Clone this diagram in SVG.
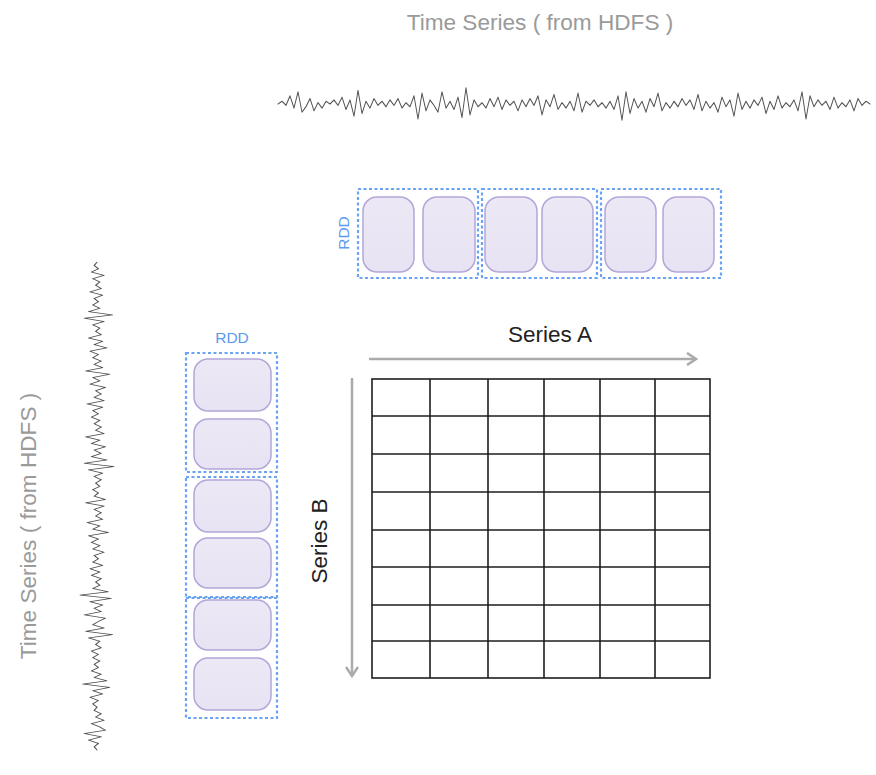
<svg xmlns="http://www.w3.org/2000/svg" width="876" height="775" viewBox="0 0 876 775">
  <style>
    .title { font-family: "Liberation Sans", Arial, sans-serif; font-size: 22.6px; fill: #9a9a9a; }
    .axis { font-family: "Liberation Sans", Arial, sans-serif; font-size: 22.5px; fill: #222; }
    .rddlabel { font-family: "Liberation Sans", Arial, sans-serif; font-size: 15.5px; fill: #5a9af0; }
    .wave { fill: none; stroke: #505050; stroke-width: 0.95; stroke-linejoin: round; stroke-linecap: round; }
    .rdd { fill: none; stroke: #6aa3f2; stroke-width: 2.2; stroke-dasharray: 3 2.5; }
    .part { fill: url(#partFill); stroke: #b3a6d9; stroke-width: 1.5; }
    .grid { fill: none; stroke: #1e1e1e; stroke-width: 1.6; }
    .arrow { fill: none; stroke: #ababab; stroke-width: 2.5; }
  </style>
  <defs>
    <linearGradient id="partFill" x1="0" y1="0" x2="0" y2="1">
      <stop offset="0" stop-color="#ece8f5"/>
      <stop offset="1" stop-color="#e8e3f3"/>
    </linearGradient>
    <filter id="soft" x="-5%" y="-50%" width="110%" height="200%">
      <feGaussianBlur stdDeviation="0.5"/>
    </filter>
    <path id="signal" d="M0,0 L4,-2 L8,1 L12,-6 L16,3 L20,-9 L24,6 L28,2 L32,-4 L36,5 L40,-1 L44,3 L48,-2 L52,0 L56,-3 L60,1 L64,-5 L68,4 L72,-3 L76,9 L80,-10 L84,7 L88,-2 L92,3 L96,-4 L100,1 L104,-2 L108,2 L112,-3 L116,1 L120,-4 L124,3 L128,-1 L132,2 L136,-6 L140,11 L144,-8 L148,5 L152,-3 L156,1 L160,6 L164,-9 L168,3 L172,-2 L176,4 L180,-5 L184,10 L188,-12 L192,8 L196,-3 L200,2 L204,-1 L208,3 L212,-4 L216,2 L220,-5 L224,4 L228,-3 L232,1 L236,-2 L240,5 L244,-3 L248,2 L252,-4 L256,1 L260,-6 L264,8 L268,-3 L272,2 L276,-7 L280,4 L284,-1 L288,3 L292,-2 L296,5 L300,-8 L304,6 L308,-2 L312,1 L316,-3 L320,2 L324,-1 L328,3 L332,-2 L336,4 L340,-6 L344,12 L348,-9 L352,7 L356,-4 L360,3 L364,-2 L368,6 L372,-4 L376,2 L380,-8 L384,5 L388,-1 L392,3 L396,-2 L400,2 L404,-4 L408,1 L412,-3 L416,4 L420,-7 L424,5 L428,-2 L432,3 L436,-1 L440,6 L444,-5 L448,2 L452,-3 L456,9 L460,-8 L464,4 L468,-2 L472,3 L476,-3 L480,1 L484,-5 L488,7 L492,-2 L496,4 L500,-6 L504,3 L508,-1 L512,2 L516,-3 L520,5 L524,-9 L528,11 L532,-6 L536,2 L540,-3 L544,1 L548,-2 L552,4 L556,-5 L560,3 L564,-1 L568,2 L572,-3 L576,5 L580,-4 L584,1 L588,-2 L592,0"/>
    <marker id="chev" viewBox="0 0 12 14" refX="10" refY="7" markerWidth="12" markerHeight="14" markerUnits="userSpaceOnUse" orient="auto">
      <path d="M1,1 L10,7 L1,13" fill="none" stroke="#ababab" stroke-width="2.5"/>
    </marker>
  </defs>

  <!-- horizontal time series -->
  <g id="series-top">
    <text class="title" x="540" y="30" text-anchor="middle">Time Series ( from HDFS )</text>
    <use href="#signal" class="wave" transform="translate(278,104) scale(1,1.35)" filter="url(#soft)"/>
  </g>

  <!-- vertical time series -->
  <g id="series-left">
    <text class="title" transform="translate(36,526) rotate(-90)" text-anchor="middle">Time Series ( from HDFS )</text>
    <use href="#signal" class="wave" transform="translate(97,750) rotate(-90) scale(0.824,1.4)" filter="url(#soft)"/>
  </g>

  <!-- RDD of series A partitions -->
  <g id="rdd-top">
    <text class="rddlabel" transform="translate(349,233) rotate(-90)" text-anchor="middle">RDD</text>
    <rect class="rdd" x="358" y="189" width="120" height="89"/>
    <rect class="rdd" x="482" y="189" width="115" height="89"/>
    <rect class="rdd" x="601" y="189" width="120" height="89"/>
    <rect class="part" x="363" y="197" width="51" height="75" rx="14"/>
    <rect class="part" x="423" y="197" width="52" height="75" rx="14"/>
    <rect class="part" x="485" y="197" width="52" height="75" rx="14"/>
    <rect class="part" x="542" y="197" width="51" height="75" rx="14"/>
    <rect class="part" x="605" y="197" width="51" height="75" rx="14"/>
    <rect class="part" x="663" y="197" width="51" height="75" rx="14"/>
  </g>

  <!-- RDD of series B partitions -->
  <g id="rdd-left">
    <text class="rddlabel" x="232" y="343" text-anchor="middle">RDD</text>
    <rect class="rdd" x="186" y="353" width="91" height="119"/>
    <rect class="rdd" x="186" y="477" width="91" height="120"/>
    <rect class="rdd" x="186" y="598" width="91" height="120"/>
    <rect class="part" x="194" y="359" width="77" height="52" rx="14"/>
    <rect class="part" x="194" y="419" width="77" height="50" rx="14"/>
    <rect class="part" x="194" y="480" width="77" height="52" rx="14"/>
    <rect class="part" x="194" y="538" width="77" height="50" rx="14"/>
    <rect class="part" x="194" y="600" width="77" height="50" rx="14"/>
    <rect class="part" x="194" y="658" width="77" height="52" rx="14"/>
  </g>

  <!-- pairwise matrix -->
  <g id="matrix">
    <rect class="grid" x="372" y="379" width="338" height="299"/>
    <path class="grid" d="M430,379 V678 M488,379 V678 M544,379 V678 M600,379 V678 M655,379 V678 M372,416 H710 M372,454 H710 M372,492 H710 M372,530 H710 M372,567 H710 M372,605 H710 M372,641 H710"/>
  </g>

  <!-- axis arrows -->
  <g id="connectors">
    <line class="arrow" x1="369" y1="359" x2="696" y2="359" marker-end="url(#chev)"/>
    <line class="arrow" x1="352" y1="378" x2="352" y2="676" marker-end="url(#chev)"/>
  </g>

  <g id="axis-labels">
    <text class="axis" x="550" y="342" text-anchor="middle">Series A</text>
    <text class="axis" transform="translate(327,541) rotate(-90)" text-anchor="middle">Series B</text>
  </g>
</svg>
